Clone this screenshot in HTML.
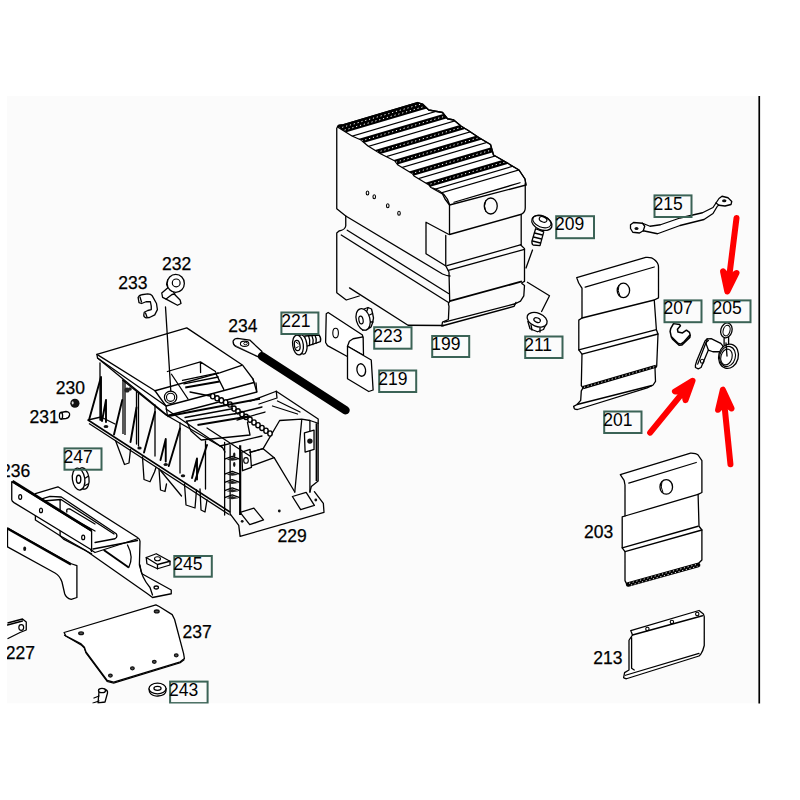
<!DOCTYPE html>
<html><head><meta charset="utf-8"><style>
html,body{margin:0;padding:0;background:#fff;width:800px;height:800px;overflow:hidden}
svg{display:block}
text{font-family:"Liberation Sans",sans-serif;font-size:17.5px;fill:#000}
.ub{stroke:#000;stroke-width:0.25}
.bx{fill:none;stroke:#3b6356;stroke-width:2}
.ln{fill:none;stroke:#000;stroke-width:1.3;stroke-linejoin:round;stroke-linecap:round}
.fw{fill:#fff;stroke:#000;stroke-width:1.3;stroke-linejoin:round}
</style></head><body>
<svg width="800" height="800" viewBox="0 0 800 800">
<rect x="7" y="96" width="752" height="607.5" fill="#fbfbfb"/>

<g id="battery">
<clipPath id="topclip"><path d="M337.5,127 Q338,125 342,125 L417.5,102.5 L422.5,104 L428.75,110 L442.5,112.5 L447.5,118.75 L453.75,120 L461.25,126.25 L467.5,130 L478.75,137.5 L490.5,144.5 L493.5,155 L504,161 L519,170 L525,179 L526,185 L449.5,205 L445,199 L442.5,194 L431,187.5 L429,185 L414,176 L412.5,173.75 L398,165 L395,161 L381,154 L368,146 L361,140 L352,136 Z"/></clipPath>
<path class="fw" d="M337.5,127 Q338,125 342,125 L417.5,102.5 L422.5,104 L428.75,110 L442.5,112.5 L447.5,118.75 L453.75,120 L461.25,126.25 L467.5,130 L478.75,137.5 L490.5,144.5 L493.5,155 L504,161 L519,170 L525,179 L526,185 L449.5,205 L445,199 L442.5,194 L431,187.5 L429,185 L414,176 L412.5,173.75 L398,165 L395,161 L381,154 L368,146 L361,140 L352,136 Z"/>
<g clip-path="url(#topclip)" stroke="#000" fill="none">
<g><line x1="300" y1="141.50" x2="560" y2="64.80" stroke="#000" stroke-width="8.5"/><line x1="300" y1="139.80" x2="560" y2="63.10" stroke="#fff" stroke-width="1" stroke-dasharray="1.2 2.8"/><line x1="300" y1="143.20" x2="560" y2="66.50" stroke="#fff" stroke-width="1" stroke-dasharray="1.2 2.8" stroke-dashoffset="1.5"/><line x1="300" y1="159.00" x2="560" y2="82.30" stroke="#000" stroke-width="5.2"/><line x1="300" y1="159.00" x2="560" y2="82.30" stroke="#fff" stroke-width="1" stroke-dasharray="1.2 2.8"/><line x1="300" y1="175.00" x2="560" y2="98.30" stroke="#000" stroke-width="5.2"/><line x1="300" y1="175.00" x2="560" y2="98.30" stroke="#fff" stroke-width="1" stroke-dasharray="1.2 2.8"/><line x1="300" y1="190.50" x2="560" y2="113.80" stroke="#000" stroke-width="5.2"/><line x1="300" y1="190.50" x2="560" y2="113.80" stroke="#fff" stroke-width="1" stroke-dasharray="1.2 2.8"/><line x1="300" y1="206.50" x2="560" y2="129.80" stroke="#000" stroke-width="5.2"/><line x1="300" y1="206.50" x2="560" y2="129.80" stroke="#fff" stroke-width="1" stroke-dasharray="1.2 2.8"/><line x1="300" y1="222.50" x2="560" y2="145.80" stroke="#000" stroke-width="5.2"/><line x1="300" y1="222.50" x2="560" y2="145.80" stroke="#fff" stroke-width="1" stroke-dasharray="1.2 2.8"/></g>
<g stroke-width="1.2"><line x1="300" y1="151.5" x2="560" y2="74.8"/><line x1="300" y1="166.5" x2="560" y2="89.8"/><line x1="300" y1="182.0" x2="560" y2="105.3"/><line x1="300" y1="197.5" x2="560" y2="120.8"/><line x1="300" y1="213.5" x2="560" y2="136.8"/><line x1="300" y1="229.0" x2="560" y2="152.3"/><line x1="300" y1="234.5" x2="560" y2="157.8"/></g>
</g>
<path class="ln" d="M337.5,127 Q338,125 342,125 L417.5,102.5 L422.5,104 L428.75,110 L442.5,112.5 L447.5,118.75 L453.75,120 L461.25,126.25 L467.5,130 L478.75,137.5 L490.5,144.5 L493.5,155 L504,161 L519,170 L525,179 L526,185"/>
<!-- left face -->
<path class="ln" d="M336.75,128 L336.75,208.75 L345.75,216 L345.75,226 Q345,230 339,231 L336.75,233 L336.75,292.75 L346.25,300 L359.25,296"/>
<path class="ln" d="M345.75,216 L442.5,274 Q447,276 450,276"/>
<path class="ln" d="M347.25,230.2 L448.5,293.5"/>
<path class="ln" d="M341.25,235 L448.5,302.5"/>
<path class="ln" d="M349.5,287.9 L408,325.25 L443.75,325.5"/>
<!-- holes -->
<g fill="none" stroke="#000" stroke-width="1.1">
<ellipse cx="367.5" cy="193" rx="1.3" ry="2"/>
<ellipse cx="374.25" cy="196.75" rx="1.3" ry="2"/>
<ellipse cx="387.75" cy="205.75" rx="1.3" ry="2"/>
<ellipse cx="399" cy="213.25" rx="1.3" ry="2"/>
</g>
<!-- notch -->
<path class="ln" d="M448.5,234.25 L426,222.25 L426,253.75 L445.5,265.75"/>
<!-- lid front face -->
<path class="ln" d="M433,188 Q446,192 449.5,204.5 L449.5,234.5 L521.5,214.25 Q525.25,212 525.25,208 L525.25,183"/>
<path class="ln" d="M454,202.25 L520,182.75"/>
<ellipse cx="490.75" cy="206" rx="6.5" ry="8" fill="none" stroke="#000" stroke-width="1.3"/>
<path d="M486,200 Q483,206 486,212" fill="none" stroke="#000" stroke-width="1"/>
<!-- lower body front -->
<path class="ln" d="M445.75,235.5 L445.75,265.7 L449,272.25 L449.7,301.1 L448.4,303.75 L449,306.4 L448.4,319.5 L442.5,322.1 L441.8,326 L514,306.4 L516,302.4"/>
<path class="ln" d="M521.2,214.5 L521.2,244.7 L447,265.7"/>
<path class="ln" d="M520.5,244.7 L524.5,248.6 L524.5,281.4 L521.9,282.75"/>
<path class="ln" d="M448.4,270.3 L524.5,249.3"/>
<path d="M449.7,301.1 L521.9,281.4" stroke="#000" stroke-width="1.8" fill="none"/>
<path class="ln" d="M521.9,283.4 L524.5,285.4 L523.8,295.9 L520.5,301.1 L515.3,303.75 L444.4,322.1"/>
</g>

<g id="tray">
<!-- top plate -->
<path class="fw" d="M96.9,354.4 L186.75,327.9 L242.75,365.3 L253,379 L256.8,392 L167.4,415.5 L97.5,358 Z"/>
<path class="ln" d="M96.9,354.4 L155,390.75 L219.6,372.9 L241.65,365.3"/>
<path class="ln" d="M97.5,358 L166,406 L254,382.5 L253,379"/>
<path class="ln" d="M155,390.75 L166,406 L167.4,415.5 M256.8,392 L256,383"/>
<path class="ln" d="M167.4,371.5 L200.4,361.9 L215.5,371.5 M200.4,361.9 L200.6,372.5"/>
<path class="ln" d="M171.5,374.25 L188,399 M215.5,372.9 L223.8,389.4"/>
<path class="ln" d="M182.5,380.4 L218.25,372.9 M183.9,383.9 L218.25,377"/>
<path d="M185.25,387.5 L219.6,381.5" stroke="#000" stroke-width="1.8" fill="none"/>
<path class="ln" d="M190,392 L210,396"/>
<circle cx="170.6" cy="397.3" r="6.2" fill="#fff" stroke="#000" stroke-width="1.2"/>
<circle cx="170.6" cy="397.3" r="4.1" fill="none" stroke="#000" stroke-width="1.1"/>
<path class="ln" d="M165.5,307 L170.8,391" stroke-width="1.1"/>
<!-- side wall -->
<path class="ln" d="M122.5,380 L166,415 L222.5,447.5"/>
<path class="ln" d="M166,409 L222.5,447.5 L225,452"/>
<path class="ln" d="M100,363 L100,420"/>
<path d="M123,380 L123,434 M125,381 L125,435" stroke="#000" stroke-width="1.3" fill="none"/>
<path class="ln" d="M136.5,392 L136.5,444 M138.5,393 L138.5,446"/>
<path class="ln" d="M155,405 L155,456 M180,423 L180,473 M205.5,441 L205.5,489"/>
<circle cx="127" cy="390" r="2.6" fill="#222"/><circle cx="130" cy="389" r="1.8" fill="#222"/>
<!-- gussets -->
<g stroke="#000" stroke-width="1.9" fill="none" stroke-linecap="round">
<path d="M101,377 L89,420 M101,377 L101,420"/>
<path d="M106,400 L102,421 M106,400 L106,422"/>
<path d="M122.25,400 L114,434.5"/>
<path d="M136.5,407.5 L130.5,442"/>
<path d="M155,412 L144,452.5"/>
<path d="M165.75,439 L160.5,460 M165.75,439 L165.75,461.5"/>
<path d="M180,428.5 L168.75,466"/>
<path d="M207,445 L195,481"/>
<path d="M197,458.5 L192,478 M197,458.5 L197,479.5"/>
</g>
<!-- flange -->
<path d="M88,420 L230,512" stroke="#000" stroke-width="1.6" fill="none"/>
<path d="M89,423.5 L229,514.5" stroke="#000" stroke-width="1.3" fill="none"/>
<path class="ln" d="M88,420 L101,417 L115,424"/>
<g fill="#111"><ellipse cx="106" cy="426.5" rx="2.4" ry="1.5"/><ellipse cx="139.5" cy="448" rx="2.2" ry="1.5"/><ellipse cx="165.75" cy="464.5" rx="2.2" ry="1.5"/><ellipse cx="183" cy="475.75" rx="2.2" ry="1.5"/></g>
<!-- feet -->
<path class="ln" d="M115.5,440.5 L124.5,464.5 L129,463 L130.5,449.5"/>
<path class="ln" d="M142.5,457 L144,479.5 L150,481.75 L154.5,472 L156,467.5"/>
<path class="ln" d="M159,469 L160.5,490 L165,491.5 L166.5,484 M160.5,470.5 L181.5,496"/>
<path class="ln" d="M184.5,484 L186,505 L195,508 L196.5,490"/>
<path class="ln" d="M200,489 L201,510 L205,512 L207,500"/>
<!-- end wall with slots -->
<path class="ln" d="M224.63,442.51 L224.63,515.00 M230.13,445.26 L230.13,515.00"/>
<path d="M240.17,445.26 L240.17,515.00" stroke="#000" stroke-width="2.2" fill="none"/>
<path class="ln" d="M224.63,459.02 L232.19,456.27 L239.76,459.02"/><path d="M226.69,459.70 L232.19,457.37 L238.38,459.70 L232.19,460.67 Z" fill="#222"/><path class="ln" d="M224.63,474.15 L232.19,471.40 L239.76,474.15"/><path d="M226.69,474.83 L232.19,472.50 L238.38,474.83 L232.19,475.80 Z" fill="#222"/><path class="ln" d="M224.63,482.40 L232.19,479.65 L239.76,482.40"/><path d="M226.69,483.09 L232.19,480.75 L238.38,483.09 L232.19,484.05 Z" fill="#222"/><path class="ln" d="M224.63,490.65 L232.19,487.90 L239.76,490.65"/><path d="M226.69,491.34 L232.19,489.00 L238.38,491.34 L232.19,492.30 Z" fill="#222"/><path class="ln" d="M224.63,497.53 L232.19,494.78 L239.76,497.53"/><path d="M226.69,498.22 L232.19,495.88 L238.38,498.22 L232.19,499.18 Z" fill="#222"/>
<g fill="#111"><ellipse cx="234.25" cy="454.9" rx="1.2" ry="2.4"/><ellipse cx="234.25" cy="464.5" rx="1.2" ry="2.4"/></g>
<path class="fw" d="M241.82,452.14 L250.08,449.39 L251.45,467.27 L242.51,470.71 Z"/><ellipse cx="246" cy="460.4" rx="2.3" ry="2.8" fill="none" stroke="#000" stroke-width="1.1"/>
<path class="ln" d="M250.08,452.14 L263.14,448.70 L274.15,457.64 L251.45,465.89"/><path class="ln" d="M263.14,448.70 L279.65,420.50 L301.66,419.13 L309.91,420.50 L318.16,423.25 L318.16,481.02 L311.29,486.53 L309.91,492.03"/><path d="M316.51,423.25 L316.51,481.02" stroke="#000" stroke-width="1.8" fill="none"/><path class="ln" d="M274.15,457.64 L294.78,492.03"/><path class="ln" d="M301.66,420.50 L294.78,492.03"/><path class="ln" d="M309.91,420.50 L309.91,492.03"/><path class="fw" d="M304.41,432.88 L314.04,430.13 L314.04,449.39 L305.10,452.14 Z"/><circle cx="309.9" cy="441.1" r="2.7" fill="#111"/>
<!-- right end -->
<path class="ln" d="M250,401.25 L276.25,391.25 L318.2,419 L318.2,423.25"/>
<path class="ln" d="M276.25,391.25 L277,398 L259,404"/>
<path class="ln" d="M272.5,406 L297.5,414 M277.5,401 L300,412"/>
<path class="ln" d="M263.1,448.7 L250,452.5"/>
<!-- base plate -->
<path class="ln" d="M230.5,514.4 L238.75,525.4 L240.1,536.4 L324,512.3 L323.35,503.4 L314.4,491.7"/>
<path class="ln" d="M240.1,512.3 L253.9,508.2 L263.5,519.9 L249.75,524.7 Z"/>
<path class="ln" d="M292.4,496.5 L306.15,492.4 L314.4,505.4 L300.65,509.6 Z"/>
<g fill="#111"><circle cx="242.2" cy="521.3" r="1.4"/><circle cx="279.3" cy="511" r="1.4"/><circle cx="315.8" cy="500" r="1.4"/></g>
<!-- threaded rod beads -->
<g fill="#fff" stroke="#000" stroke-width="1.4"><ellipse cx="212.75" cy="396.25" rx="2.2" ry="2.6"/><ellipse cx="217.06" cy="398.31" rx="2.2" ry="2.6"/><ellipse cx="221.38" cy="400.38" rx="2.2" ry="2.6"/><ellipse cx="225.69" cy="402.44" rx="2.2" ry="2.6"/><ellipse cx="230.00" cy="404.50" rx="2.2" ry="2.6"/><ellipse cx="234.00" cy="408.60" rx="2.2" ry="2.6"/><ellipse cx="238.00" cy="411.37" rx="2.2" ry="2.6"/><ellipse cx="242.00" cy="414.13" rx="2.2" ry="2.6"/><ellipse cx="246.00" cy="416.90" rx="2.2" ry="2.6"/><ellipse cx="250.00" cy="419.67" rx="2.2" ry="2.6"/><ellipse cx="254.00" cy="422.43" rx="2.2" ry="2.6"/><ellipse cx="258.00" cy="425.20" rx="2.2" ry="2.6"/><ellipse cx="262.00" cy="427.97" rx="2.2" ry="2.6"/><ellipse cx="266.00" cy="430.73" rx="2.2" ry="2.6"/><ellipse cx="270.00" cy="433.50" rx="2.2" ry="2.6"/></g>
<!-- rails -->
<path class="ln" d="M185,417.5 L232.5,408.75 M186.25,421.25 L235,413.75"/>
<path d="M167.5,416.25 L260,398.75 M197.5,425 L250,416.25" stroke="#000" stroke-width="1.8" fill="none"/>
<path class="ln" d="M235,413.75 L262,407 M237,420 L265,412"/>
<path class="ln" d="M186.75,421.5 L191,431 L201.25,440 L250,435 L247.5,422.5"/>
<path class="ln" d="M207,428 L250,456 M220,446 L262,436"/>
</g>

<g id="small">
<!-- cable 234 -->
<path d="M233.1,341 Q234.5,338.4 237.5,338.4 L249.75,340.1 L262,351.5 L258.5,357 L235.75,346.5 Q233,345 233.1,341 Z" fill="#fff" stroke="#000" stroke-width="1.3" stroke-linejoin="round"/>
<path d="M233.6,344.6 L258,356.5" stroke="#000" stroke-width="1" stroke-dasharray="1.2 1" fill="none"/>
<ellipse cx="244.6" cy="343.75" rx="4.2" ry="2.6" fill="none" stroke="#000" stroke-width="1.1"/>
<ellipse cx="245.5" cy="343.5" rx="1.8" ry="1.2" fill="none" stroke="#000" stroke-width="0.9"/>
<line x1="262" y1="356.2" x2="345.5" y2="410.2" stroke="#000" stroke-width="8.5" stroke-linecap="round"/>
<!-- screw 221 -->
<path class="fw" d="M304.7,336 L319,335 Q321.5,338 320.4,341.6 L305.6,346.7 Z" stroke-width="1.4"/>
<path class="ln" d="M308.5,335.5 Q310.5,340 309.5,345.5 M311.8,335.3 Q313.8,339.5 312.8,344.5 M315,335.1 Q317,339 316,343.3" stroke-width="1.2"/>
<ellipse cx="302.3" cy="344.5" rx="4.6" ry="9.7" transform="rotate(-8 302.3 344.5)" class="fw" stroke-width="1.4"/>
<ellipse cx="298" cy="345" rx="5.3" ry="10" transform="rotate(-8 298 345)" class="fw" stroke-width="1.5"/>
<ellipse cx="297.2" cy="345.5" rx="2.8" ry="5.2" transform="rotate(-8 297.2 345.5)" fill="none" stroke="#000" stroke-width="1.3"/>
<path d="M296,342 L298.5,344 M296,348 L298.5,346.5" stroke="#000" stroke-width="1" fill="none"/>
<!-- bracket 219 -->
<path class="fw" d="M328.12,312.50 L362.50,335.00 L363.12,355.00 L346.88,356.25 L327.50,345.62 L325.62,342.50 L326.25,313.75 Z"/><ellipse cx="335.6" cy="333.1" rx="2.8" ry="4.8" fill="none" stroke="#000" stroke-width="1.1"/>
<path class="fw" d="M347.50,346.25 L349.38,341.25 L353.12,338.75 L363.12,336.88 L363.50,355.38 Z"/><path class="fw" d="M347.50,346.25 L371.25,360.00 L373.12,390.00 L368.75,391.50 L347.50,378.75 Z"/><ellipse cx="361.25" cy="370" rx="4.3" ry="6.3" transform="rotate(-10 361.25 370)" fill="none" stroke="#000" stroke-width="1.3"/>
<!-- nut 223 -->
<path class="fw" d="M364,309 L368,307.5 L371.5,309 L372.5,313 L373.5,318 L372.5,323 L371,327 L367,329.5 L362,330"/>
<path class="ln" d="M368,308 L366.5,312 M372.5,313.5 L369.5,315 M373,322 L369.5,322 M370,327.5 L367.5,325" stroke-width="1"/>
<ellipse cx="363.1" cy="319.4" rx="6.8" ry="11" transform="rotate(-15 363.1 319.4)" class="fw"/>
<ellipse cx="361" cy="320" rx="2.1" ry="3.9" transform="rotate(-10 361 320)" fill="none" stroke="#000" stroke-width="1.2"/>
<!-- screw 209 -->
<path class="fw" d="M535.6,228.75 L531.9,241.25 Q531.8,244.5 533.1,245 L540,245.6 L543.75,231.9 Z"/>
<path class="ln" d="M534.5,233 L542.5,235 M533.5,237 L541.5,239 M532.5,241 L540.5,243" stroke-width="1"/>
<ellipse cx="541.9" cy="223" rx="10.6" ry="6.8" transform="rotate(22 541.9 223)" class="fw"/>
<ellipse cx="541.9" cy="221.5" rx="9.6" ry="5.7" transform="rotate(22 541.9 221.5)" fill="none" stroke="#000" stroke-width="1.1"/>
<ellipse cx="543.1" cy="219.4" rx="4" ry="2.5" transform="rotate(22 543.1 219.4)" fill="none" stroke="#000" stroke-width="1.2"/>
<path class="ln" d="M532.5,250 L526,268"/>
<!-- nut 211 -->
<path class="ln" d="M527.4,282.25 L549.5,295.75 L541.6,311.5"/>
<path class="fw" d="M527.75,321 L530,328.75 L537.5,331.75 L543.5,329.5 L546.5,323"/>
<ellipse cx="537.1" cy="319.75" rx="10.5" ry="6.6" transform="rotate(22 537.1 319.75)" class="fw"/>
<ellipse cx="537.1" cy="320.1" rx="3.4" ry="2.2" transform="rotate(22 537.1 320.1)" fill="none" stroke="#000" stroke-width="1.2"/>
<path class="ln" d="M531,325 L532,330 M540,328 L540,332" stroke-width="1"/>
<!-- 232 -->
<path class="fw" d="M167.9,279.9 L166.6,284.25 L167.9,287.75 L161.75,293 L162.6,297.4 L166.1,299.1 L177.5,305.25 L181,303.5 L180.1,300 L174.9,294.75 Z"/>
<path class="ln" d="M166.1,299.1 L172,294.5 L174.9,294"/>
<ellipse cx="175.75" cy="283.4" rx="8.6" ry="9" class="fw"/>
<circle cx="176.2" cy="282.9" r="3.9" fill="none" stroke="#000" stroke-width="1.2"/>
<!-- 233 -->
<path class="fw" d="M138.1,297.4 Q139,295 141.6,294.75 L147.75,293.9 Q151,294 152.1,295.6 L156.5,303.5 L157.4,309.6 L154.75,314.9 L149.5,317.5 L146,317.9 Q143.5,317 143.8,314.9 L144.25,312.25 L147.75,310.5 L151.25,309.6 L151.25,306.1 L150.4,301.75 L146,301.75 L141.6,303.5 L139,302.6 Z" stroke-width="1.4"/>
<path class="ln" d="M140,297 L141.5,302 M145.5,313 L147,317" stroke-width="1"/>
<!-- 230 / 231 -->
<circle cx="74.9" cy="403.25" r="4.6" fill="#111"/>
<ellipse cx="72.7" cy="402.8" rx="1" ry="1.6" fill="#ddd"/>
<path class="fw" d="M61,412.5 L66,411.5 Q70,412 69.6,415 Q69,418 66,418.5 L61,419 Z" stroke-width="1.1"/>
<ellipse cx="61" cy="415.8" rx="1.6" ry="3.3" class="fw" stroke-width="1.1"/>
<!-- 247 -->
<ellipse cx="83" cy="478.5" rx="6" ry="10.8" transform="rotate(-8 83 478.5)" class="fw" stroke-width="1.5"/>
<path class="ln" d="M84,468.5 L86.5,470.5 M88.5,476 L85.5,478 M88,484 L85,485.5" stroke-width="1.1"/>
<ellipse cx="78.6" cy="479.1" rx="6.2" ry="11" transform="rotate(-8 78.6 479.1)" class="fw" stroke-width="1.5"/>
<ellipse cx="78.6" cy="479.3" rx="2.2" ry="4" fill="none" stroke="#000" stroke-width="1.4"/>
<!-- 245 nut -->
<path class="fw" d="M146.25,557.5 L156.25,553.75 L170,561.25 L170,565 L157.5,568.75 L146.9,563.75 Z"/>
<path class="ln" d="M146.25,557.5 L157.5,564.5 L170,561.25 M157.5,564.5 L157.5,568.75"/>
<ellipse cx="157.5" cy="558.75" rx="3" ry="2" fill="none" stroke="#000" stroke-width="1.1"/>
<!-- 243 washer -->
<path class="fw" d="M149,688.5 L149.5,692 Q152,696.5 158,696 Q165.5,695.5 166,691 L166,688"/>
<ellipse cx="157.5" cy="688.5" rx="8.5" ry="5.3" class="fw"/>
<ellipse cx="157.5" cy="688.3" rx="3.6" ry="2" fill="none" stroke="#000" stroke-width="1.2"/>
<!-- stud under 237 -->
<path class="fw" d="M99,692 L104,689 Q108,690 107.5,693 L105,702 L98,703 Z"/>
<ellipse cx="102" cy="690.5" rx="3.5" ry="2.2" class="fw" stroke-width="1.1"/>
<path class="ln" d="M94,698 L99,696 M93,703 L99,701"/>
<!-- 227 -->
<path class="fw" d="M7.5,623 L22.5,619 L26.25,622 L26.25,630 L20,632.5 L7.5,638.75"/>
<path class="ln" d="M7.5,625 L22.5,621"/>
<ellipse cx="21.25" cy="627.5" rx="2.4" ry="2.8" fill="none" stroke="#000" stroke-width="1.2"/>
</g>

<g id="bracket236">
<!-- lower strip -->
<path class="fw" d="M7.5,528 L71.25,563.75 L76.9,565.6 L76.9,597.5 L71.25,599.4 Q66,598 64.7,593.75 L62,582 Q60,576 55,573 L7.5,546.9 Z"/>
<path d="M7.5,528.5 L71,564.5" stroke="#000" stroke-width="2.4" fill="none"/>
<ellipse cx="24.7" cy="548.7" rx="1.5" ry="2.3" fill="#111"/>
<!-- channel body -->
<path class="fw" d="M35.4,493.6 L57.9,486.8 L137.5,537.5 Q140,539 140,541.25 L139.4,565 L141.9,573.75 L171.25,590 L171.25,593.75 L152.5,597.5 L147.5,593.75 L85,550 L60.1,535.75 L35.4,520 Z"/>
<path class="ln" d="M41,499.2 L50,496.4 L61.25,497 L116.25,533.75 Q118,537 115,538.75 L95,542.5"/>
<path class="ln" d="M43,501 L61,499.5 L114,534"/>
<path class="ln" d="M60.1,500.3 L60.1,511"/>
<path class="ln" d="M66.9,512 Q66,508 70,509 L95,524 M68,516 L95,531"/>
<path class="ln" d="M91.25,531.25 L91.25,550 L95,552.5 L137.5,538.75"/>
<path class="ln" d="M93,549 L137.5,540.5"/>
<path d="M85,527.5 L91.25,531.25" stroke="#000" stroke-width="2" fill="none"/>
<path d="M103.75,550 L128.75,567.5" stroke="#000" stroke-width="2" fill="none"/>
<path class="ln" d="M128.75,567.5 Q134,557 127.5,545"/>
<path class="ln" d="M140,565 Q141,577 150,587.5 L152.5,595"/>
<path class="ln" d="M60.1,531.25 L60.1,535.75 L63.5,539.1 L91.6,553.75"/>
<ellipse cx="156.25" cy="587.5" rx="2.2" ry="1.5" fill="none" stroke="#000" stroke-width="1.3"/>
<!-- top strip -->
<path class="fw" d="M11.75,481.75 L91.6,531.25 L91.6,551.5 L90.5,549.25 L14,502.6 Q11.75,501 11.75,499.75 Z"/>
<path d="M12.5,481 L91.6,530.5" stroke="#000" stroke-width="2.6" fill="none"/>
<g fill="none" stroke="#000" stroke-width="1.2"><ellipse cx="20.2" cy="497" rx="1.5" ry="2.3"/><ellipse cx="41" cy="510.4" rx="1.5" ry="2.3"/><ellipse cx="83.2" cy="537.4" rx="1.5" ry="2.3"/></g>
</g>
<g id="plate237">
<path d="M64.1,635 L81.1,644.9 L84.4,648.2 L86,653 L107.2,681.5 L113.7,683.1 L180.3,662.8 L184.4,659.5" fill="none" stroke="#000" stroke-width="1.2"/>
<path class="fw" d="M64.1,632.5 L155.9,604.9 L159.2,606.5 L172.2,614.6 L174.6,619.5 L183.6,653.7 L184.4,658.5 L180.3,661.8 L113.7,682.1 L107.2,680.5 L86,652 L84.4,647.2 L81.1,643.9 L65.7,635.8 Z" stroke-width="1.4"/>
<g fill="#555" stroke="#111" stroke-width="1.3"><ellipse cx="81.1" cy="633.3" rx="2.4" ry="1.4"/><ellipse cx="156.75" cy="611.4" rx="2.4" ry="1.4"/><ellipse cx="176.25" cy="655.3" rx="1.8" ry="1.5"/><ellipse cx="154.3" cy="661.8" rx="1.8" ry="1.5"/><ellipse cx="132.4" cy="668.3" rx="1.8" ry="1.5"/><ellipse cx="110.4" cy="675.6" rx="1.8" ry="1.5"/></g>
</g>
</g>

<g id="panel201">
<path class="fw" d="M576.7,277.6 L645.75,257.4 Q652,257 654.25,259.6 Q658.5,263 658.5,267 L658.5,297.8 L654.25,300 L656.4,329.7 L658,334 L656.7,366 L655,368.3 L655.5,381.4 L653.1,385 L647.2,387.9 L577.5,409.5 Q574,409.5 574.2,408.2 L573.6,406.3 L577.1,404.5 L580.7,400.4 L581.3,390.9 L583,387.9 L581.3,385.5 L582,354.1 L578.8,349.9 L578.8,320.1 L582,318 L582,288.25 Q578,283 576.7,277.6 Z"/>
<path class="ln" d="M585.2,287.2 L654.25,267"/>
<path class="ln" d="M582,318 L654.25,300"/>
<path class="ln" d="M578.8,349.9 L656.4,329.7 M582,354.1 L658,334"/>
<path d="M583,387.6 L656,366.3" stroke="#000" stroke-width="3.2" fill="none"/>
<path d="M584,387.3 L655,366.6" stroke="#fff" stroke-width="0.9" stroke-dasharray="1.2 2.4" fill="none"/>
<path class="ln" d="M577.1,404.5 L652,385.5"/>
<ellipse cx="623.4" cy="290.4" rx="6.2" ry="7.2" class="fw"/>
<path d="M619,285 Q617,291 620,296" fill="none" stroke="#000" stroke-width="1"/>
</g>
<g id="panel203">
<path class="fw" d="M620.3,474.7 L690.6,453.1 Q696,453 698.1,455 L701.9,460.6 L701.9,492.5 L698.1,494.4 L699,526.25 L701.9,530 L701.9,560 L698.1,563.75 L626.9,584.4 L625,580.6 L625,551.6 L622.2,547.8 L622.2,516.9 L625,516 L625,485 L624.1,480.3 Z"/>
<path class="ln" d="M628.75,483.1 L696.25,462.5"/>
<path class="ln" d="M625,516 L698.1,494.4"/>
<path class="ln" d="M622.2,547.8 L698.1,526.25 M625,551.6 L701.9,530"/>
<path d="M628.1,584.5 L698.1,565" stroke="#000" stroke-width="4.6" fill="none" stroke-linecap="round"/>
<path d="M629,583.3 L697.5,564.2" stroke="#fff" stroke-width="0.9" stroke-dasharray="1.2 2.6" fill="none"/>
<path d="M629,585.6 L697.5,566.3" stroke="#fff" stroke-width="0.9" stroke-dasharray="1.2 2.6" stroke-dashoffset="1.8" fill="none"/>
<ellipse cx="666.25" cy="486.9" rx="6.3" ry="7.3" class="fw"/>
<path d="M662,481.5 Q660,487 663,492.5" fill="none" stroke="#000" stroke-width="1"/>
</g>
<g id="panel213">
<path class="fw" d="M630.75,630.6 L699,610.5 L703.4,614 L704.25,616.6 L704.25,645.5 Q703,651 700.75,654.25 L699,656 L626.4,678.75 Q623,678 623.75,677 L624.6,672.6 L629,670 L629,640.25 L630.75,637.6 L632.5,635 Z"/>
<path class="ln" d="M632.5,635 L702.5,615.75"/>
<path class="ln" d="M631.6,637.6 L631.6,668.25 L634.25,670"/>
<path class="ln" d="M625.5,675.25 L699,653.4"/>
<g fill="none" stroke="#000" stroke-width="1.1"><circle cx="647.4" cy="628.9" r="1.7"/><circle cx="671.9" cy="621.9" r="1.7"/><circle cx="697.25" cy="614" r="1.7"/></g>
</g>
<g id="strap215">
<path class="fw" d="M630.5,224.75 L633.5,222.5 L642.5,223.25 L650,226.25 L660.5,224.75 L680,218 L702.5,212.75 L713,207.5 L716,203 L719,198.5 L722,196.25 L728,197.75 L731.75,201.5 L731,204.5 L725,206 L719,205.25 L717.5,206 L713,213.5 L704,219.5 L680,225.5 L657.5,233.75 L643.25,230.75 L639.5,233 L632.75,232.25 L630.5,228.5 Z"/>
<path class="ln" d="M643.25,230.75 L644.75,226.25 L642.5,223.25 M716,203 L719,205.25"/>
<ellipse cx="636.5" cy="228.5" rx="2" ry="1.5" fill="#111"/>
<ellipse cx="724.25" cy="200.75" rx="2.2" ry="1.5" fill="#111"/>
</g>
<g id="clip207"><path d="M671.25,336.56 L672.60,339.15 L679.12,345.22 L681.94,345.00 L689.81,337.35 L690.15,334.87" fill="#fff" stroke="#000" stroke-width="1.6" stroke-linejoin="round"/><path d="M670.69,328.69 L673.50,323.62 L679.69,324.52 L680.47,325.87 L677.44,329.25 L678.00,332.06 L682.50,332.96 L686.44,330.15 L689.47,332.40 L690.15,334.87 L684.19,341.62 L680.81,344.10 L678.00,343.31 L671.25,336.56 L670.12,331.50 Z" fill="#fff" stroke="#000" stroke-width="1.5" stroke-linejoin="round"/></g>
<g id="clamp205"><path class="fw" d="M695.44,365.25 L696.56,361.31 L705.00,341.06 L707.25,338.81 L711.19,338.59 L720.75,343.31 L723.00,346.12 L720.75,351.75 L712.87,351.75 L708.37,350.06 L701.06,367.50 L698.25,368.85 L695.44,367.50 Z"/><path class="ln" d="M697.69,364.12 L706.12,342.19 L708.37,340.50"/><path class="ln" d="M707.25,338.81 L706.12,343.87 L708.37,350.06"/><ellipse cx="702.19" cy="361.31" rx="1.8" ry="2" fill="none" stroke="#000" stroke-width="1.1"/><path class="ln" d="M724.1,338 L724.1,345 M728.6,337 L728.6,345"/>
<ellipse cx="726.4" cy="330.4" rx="5.6" ry="7.6" transform="rotate(15 726.4 330.4)" class="fw"/>
<ellipse cx="726.6" cy="330.6" rx="3.4" ry="5.4" transform="rotate(15 726.6 330.6)" fill="none" stroke="#000" stroke-width="1.1"/>
<ellipse cx="728.5" cy="356.25" rx="9.8" ry="12.3" transform="rotate(15 728.5 356.25)" class="fw"/>
<ellipse cx="727.5" cy="356.5" rx="7.8" ry="10.2" transform="rotate(15 727.5 356.5)" fill="none" stroke="#000" stroke-width="1.1"/>
<ellipse cx="726.5" cy="357" rx="5.6" ry="8" transform="rotate(15 726.5 357)" fill="none" stroke="#000" stroke-width="1.1"/>
<path class="ln" d="M726,343 L727,356" stroke-width="1.2"/>
</g>

<g id="arrows" fill="#f00" stroke="#f00" stroke-linecap="round" stroke-linejoin="round">
<line x1="736.53" y1="217.98" x2="728.76" y2="280.12" stroke-width="6"/>
<path d="M723.01,271.33 L727.33,291.53 L736.50,273.02 L729.01,278.13 Z" stroke-width="6"/>
<line x1="650.15" y1="432.68" x2="685.27" y2="389.62" stroke-width="6"/>
<path d="M685.48,400.12 L692.54,380.71 L674.94,391.52 L684.00,391.17 Z" stroke-width="6"/>
<line x1="730.45" y1="464.27" x2="724.02" y2="401.17" stroke-width="6"/>
<path d="M731.60,408.44 L722.85,389.73 L718.07,409.82 L724.22,403.16 Z" stroke-width="6"/>
</g>

<g id="labels">
<rect class="bx" x="654.5" y="195.4" width="37" height="21.6"/><text x="653.5" y="209.5">215</text>
<rect class="bx" x="556.2" y="216.2" width="37.8" height="22"/><text x="555" y="230.3">209</text>
<rect class="bx" x="664.5" y="300.4" width="37" height="21.8"/><text x="663.5" y="314.4">207</text>
<rect class="bx" x="713.5" y="300.4" width="37" height="21.8"/><text x="712.5" y="314.4">205</text>
<rect class="bx" x="281.4" y="312.5" width="37" height="21.5"/><text x="281.3" y="326.9">221</text>
<rect class="bx" x="374.2" y="327.2" width="37.3" height="21.5"/><text x="373.2" y="341.5">223</text>
<rect class="bx" x="432.2" y="336" width="37" height="21"/><text x="431.2" y="350">199</text>
<rect class="bx" x="379.2" y="370.5" width="37" height="21.5"/><text x="378.2" y="384.5">219</text>
<rect class="bx" x="525.2" y="336.5" width="37.3" height="21.5"/><text x="524.2" y="350.5">211</text>
<rect class="bx" x="604.2" y="411.5" width="37.3" height="21.5"/><text x="603.2" y="425.5">201</text>
<rect class="bx" x="64.5" y="448.4" width="37" height="21.3"/><text x="63.5" y="462.5">247</text>
<rect class="bx" x="174.3" y="556" width="37.5" height="20.7"/><text x="173.3" y="570">245</text>
<rect class="bx" x="170.1" y="681.6" width="37.5" height="21.5"/><text x="169.1" y="695.5">243</text>
<text class="ub" x="162" y="269.6">232</text>
<text class="ub" x="118.3" y="289">233</text>
<text class="ub" x="228.3" y="332.3">234</text>
<text class="ub" x="55.8" y="393.5">230</text>
<text class="ub" x="29.5" y="422.7">231</text>
<text class="ub" x="1" y="476.8">236</text>
<text class="ub" x="277.6" y="541.6">229</text>
<text class="ub" x="584" y="538">203</text>
<text class="ub" x="182.6" y="637.7">237</text>
<text class="ub" x="5.8" y="658.6">227</text>
<text class="ub" x="593.2" y="664.4">213</text>
</g>
<g id="mask" fill="#fff">
<rect x="0" y="0" width="800" height="96"/>
<rect x="0" y="0" width="7" height="800"/>
<rect x="0" y="703.5" width="800" height="97"/>
<rect x="759" y="0" width="41" height="800"/>
<rect x="758.4" y="96" width="1.7" height="607.5" fill="#000"/>
</g>

</svg>
</body></html>
